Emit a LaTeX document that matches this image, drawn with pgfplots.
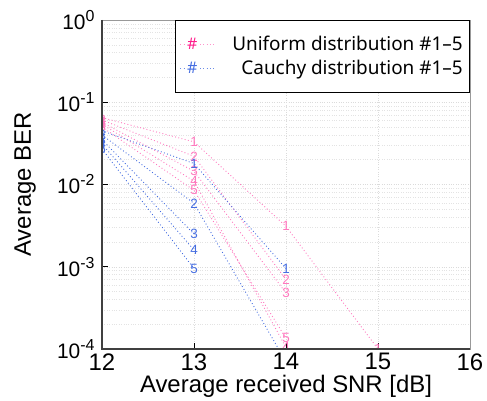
\documentclass[border=0pt]{standalone}
\usepackage{fontspec}
\setmainfont{Liberation Sans}
\newfontfamily\lgfont{Noto Sans}
\usepackage{pgfplots}
\pgfplotsset{compat=1.18}
\definecolor{pk}{RGB}{255,120,190}
\definecolor{pkd}{RGB}{255,30,140}
\definecolor{bl}{RGB}{70,110,225}
\newcommand{\tl}[1]{10\raisebox{8bp}{\fontsize{16}{16}\selectfont #1}}
\begin{document}
\begin{tikzpicture}
\begin{axis}[
  scale only axis, width=368bp, height=329bp,
  xmin=12, xmax=16, ymin=1e-4, ymax=1,
  ymode=log,
  /pgf/number format/assume math mode=true,
  xtick={12,13,14,15,16},
  ytick={1e-4,1e-3,1e-2,1e-1,1},
  yticklabels={\tl{-4},\tl{-3},\tl{-2},\tl{-1},\tl{0}},
  xticklabel style={font=\fontsize{24}{24}\selectfont, yshift=-1bp},
  yticklabel style={font=\fontsize{21}{21}\selectfont, xshift=-4bp},
  xtick pos=lower, ytick pos=left,
  tick align=inside,
  major tick length=6bp, minor tick length=0pt,
  tick style={black, line width=0.8pt},
  grid=both,
  major grid style={dotted, gray!28, line width=0.5pt},
  minor grid style={dotted, gray!22, line width=0.5pt},
  axis line style={gray!80, line width=0.5pt},
  xlabel={Average received SNR [dB]},
  ylabel={Average BER},
  xlabel style={font=\fontsize{24}{24}\selectfont, at={(axis description cs:0.5,0)}, yshift=-37bp, anchor=center},
  ylabel style={font=\fontsize{24}{24}\selectfont, at={(axis description cs:-0.209,0.5)}, anchor=center},
  clip marker paths=true,
  legend style={at={(rel axis cs:1,1)}, anchor=north east, draw=black, line width=0.6pt,
    font=\lgfont\fontsize{19}{21}\selectfont, inner xsep=5bp, inner ysep=14bp,
    row sep=4bp},
  legend cell align=right,
  every axis plot/.append style={line width=0.9pt, dash pattern=on 0.9pt off 2.4pt},
  mystyle/.style={mark=text, text mark={#1}, text mark as node=true,
    text mark style={font=\fontsize{13.5}{13.5}\selectfont, inner sep=0pt, anchor=center},
    mark options={solid}},
]
\addlegendimage{legend image code/.code={
  \path[draw=none] (0bp,0bp) -- (50bp,0bp);
  \draw[pk!80, dash pattern=on 0.9pt off 2.4pt, line width=0.9pt] (0bp,0bp) -- (36bp,0bp);
  \node[text=pkd, fill=white, inner sep=0.5bp, font=\lgfont\fontsize{16}{16}\selectfont] at (18bp,0bp) {\#};}}
\addlegendentry{Uniform distribution \#1–5}
\addlegendimage{legend image code/.code={
  \path[draw=none] (0bp,0bp) -- (50bp,0bp);
  \draw[bl!80, dash pattern=on 0.9pt off 2.4pt, line width=0.9pt] (0bp,0bp) -- (36bp,0bp);
  \node[text=bl, fill=white, inner sep=0.5bp, font=\lgfont\fontsize{16}{16}\selectfont] at (18bp,0bp) {\#};}}
\addlegendentry{Cauchy distribution \#1–5}

% Uniform distribution
\addplot[pk, mystyle=1, forget plot] coordinates {(12,0.065)(13,0.033)(14,0.0031)(15,1.0e-4)};
\addplot[pk, mystyle=2, forget plot] coordinates {(12,0.061)(13,0.022)(14,7.0e-4)};
\addplot[pk, mystyle=3, forget plot] coordinates {(12,0.057)(13,0.0145)(14,4.8e-4)};
\addplot[pk, mystyle=4, forget plot] coordinates {(12,0.054)(13,0.011)(14,1.05e-4)};
\addplot[pk, mystyle=5, forget plot] coordinates {(12,0.050)(13,0.0085)(14,1.35e-4)};
% Cauchy distribution
\addplot[bl, mystyle=1, forget plot] coordinates {(12,0.045)(13,0.018)(14,9.5e-4)};
\addplot[bl, mystyle=2, forget plot] coordinates {(12,0.040)(13,0.0059)(14,7e-5)};
\addplot[bl, mystyle=3, forget plot] coordinates {(12,0.035)(13,0.0025)};
\addplot[bl, mystyle=4, forget plot] coordinates {(12,0.031)(13,0.0016)};
\addplot[bl, mystyle=5, forget plot] coordinates {(12,0.027)(13,0.00095)};

\coordinate (sw) at (rel axis cs:0,0);
\coordinate (ne) at (rel axis cs:1,1);
\coordinate (nw) at (rel axis cs:0,1);
\coordinate (se) at (rel axis cs:1,0);
\end{axis}
\draw[black!75, line width=1.3pt] (nw) -- (sw) -- (se);
\pgfresetboundingbox
\path[use as bounding box] ([xshift=-102bp,yshift=-52bp]sw) rectangle ([xshift=17bp,yshift=20bp]ne);
\end{tikzpicture}
\end{document}
